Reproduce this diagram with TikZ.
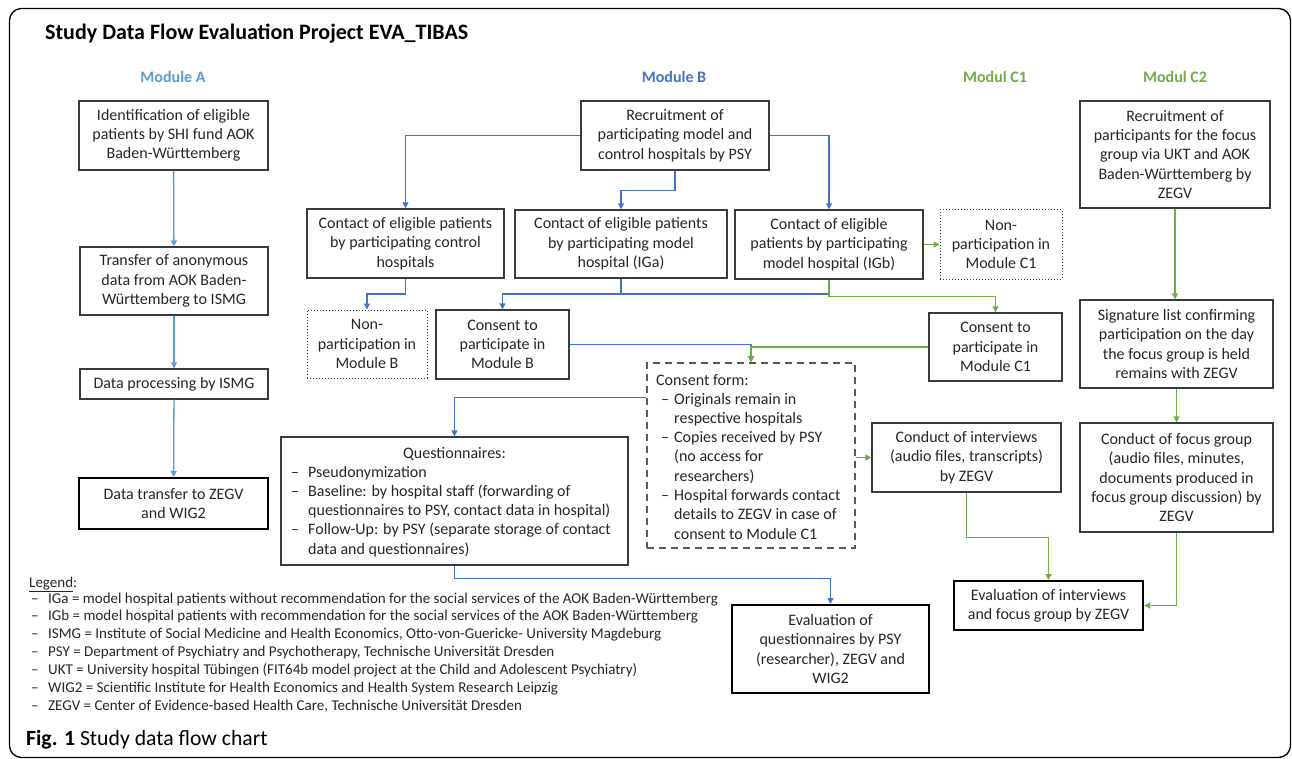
\documentclass[tikz,border=0pt]{standalone}
\usepackage{fontspec}
\setmainfont{Carlito}
\usetikzlibrary{arrows.meta}
\definecolor{blueA}{HTML}{5B9BD5}
\definecolor{blueB}{HTML}{4472C4}
\definecolor{grn}{HTML}{70AD47}
\definecolor{bord}{HTML}{3A3A3A}
\definecolor{dashc}{HTML}{595959}
\definecolor{txt}{HTML}{262626}
\newcommand\myboxfont{\fontsize{16}{19.3}\selectfont}
\newcommand\mylegfont{\fontsize{15}{17.9}\selectfont}
\newcommand\qitm{\makebox[17pt][l]{–}}
\newcommand\qind{\hspace*{17pt}}
\newcommand\citm{\makebox[13pt][l]{–}}
\newcommand\cind{\hspace*{13pt}}
\newcommand\litm{\makebox[17pt][l]{–}}
\newcommand\mkbox[7][]{%
  \node[bx,#1,minimum width={(#5-#3)*1pt},minimum height={(#6-#4)*1pt}] (#2) at ({(#3+#5)/2},{(#4+#6)/2}) {#7};}
\begin{document}
\begin{tikzpicture}[x=1pt,y=-1pt,
  bx/.style={draw=bord,line width=1.3pt,align=center,inner sep=0pt,font=\myboxfont,text=txt},
  bxthick/.style={draw=black,line width=2pt},
  bxdot/.style={line width=1pt,dotted},
  bxdash/.style={draw=dashc,line width=1.6pt,dash pattern=on 7pt off 5pt},
  tip/.style={-{Triangle[length=6pt,width=6pt]}},
  lA/.style={draw=blueA,line width=1.3pt},
  lB/.style={draw=blueB,line width=1.3pt},
  lG/.style={draw=grn,line width=1.3pt},
  arA/.style={lA,tip},
  arB/.style={lB,tip},
  arG/.style={lG,tip},
  modlbl/.style={font=\bfseries\fontsize{16}{19}\selectfont,inner sep=0pt},
  plain/.style={inner sep=0pt,text=txt}]
\useasboundingbox (0,0) rectangle (1292,759);
\draw[line width=1.3pt,rounded corners=12pt] (9.5,8.5) rectangle (1290.5,757.5);

\node[plain,anchor=base west,font=\bfseries\fontsize{22}{26}\selectfont,text=black] (title) at (45,40) {Study Data Flow Evaluation Project EVA\_TIBAS};

\node[modlbl,text=blueA] (modA) at (173,77) {Module A};
\node[modlbl,text=blueB] (modB) at (674,77) {Module B};
\node[modlbl,text=grn] (modC1) at (995,77) {Modul C1};
\node[modlbl,text=grn] (modC2) at (1175,77) {Modul C2};

% Module A
\mkbox{a1}{79}{101}{268}{170}{Identification of eligible\\patients by SHI fund AOK\\Baden-Württemberg}
\mkbox{a2}{80}{247}{268}{315}{Transfer of anonymous\\data from AOK Baden-\\Württemberg to ISMG}
\mkbox{a3}{80}{369}{268}{399}{Data processing by ISMG}
\mkbox[bxthick]{a4}{79}{478}{268}{529}{Data transfer to ZEGV\\and WIG2}

% Module B
\mkbox{b0}{581}{101}{769}{170}{Recruitment of\\participating model and\\control hospitals by PSY}
\mkbox{cctrl}{307}{209}{504}{278}{Contact of eligible patients\\by participating control\\hospitals}
\mkbox{ciga}{515}{210}{727}{278}{Contact of eligible patients\\by participating model\\hospital (IGa)}
\mkbox{cigb}{735}{210}{923}{279}{Contact of eligible\\patients by participating\\model hospital (IGb)}
\mkbox[bxdot]{nonc1}{940}{210}{1062}{279}{Non-\\participation in\\Module C1}
\mkbox[bxdot]{nonb}{307}{310}{427}{378}{Non-\\participation in\\Module B}
\mkbox{consb}{436}{310}{569}{379}{Consent to\\participate in\\Module B}
\mkbox{consc1}{929}{313}{1062}{381}{Consent to\\participate in\\Module C1}
\mkbox[bxdash]{cform}{647}{363}{855}{548}{}
\mkbox{quest}{281}{437}{628}{565}{}
\mkbox{intv}{872}{423}{1061}{492}{Conduct of interviews\\(audio files, transcripts)\\by ZEGV}
\mkbox[bxthick]{evpsy}{732}{605}{929}{693}{Evaluation of\\questionnaires by PSY\\(researcher), ZEGV and\\WIG2}

% Module C2
\mkbox{c2}{1080}{101}{1270}{208}{Recruitment of\\participants for the focus\\group via UKT and AOK\\Baden-Württemberg by\\ZEGV}
\mkbox{sig}{1080}{300}{1273}{388}{Signature list confirming\\participation on the day\\the focus group is held\\remains with ZEGV}
\mkbox{focus}{1080}{423}{1273}{532}{Conduct of focus group\\(audio files, minutes,\\documents produced in\\focus group discussion) by\\ZEGV}
\mkbox[bxthick]{evz}{954}{581}{1143}{630}{Evaluation of interviews\\and focus group by ZEGV}

% texts inside consent form and questionnaires
\node[plain,anchor=base west,font=\myboxfont] (cformH) at (656,385) {Consent form:};
\node[plain,anchor=base west,font=\myboxfont] (cformL) at (661,404) {\vtop{%
  \hbox{\citm Originals remain in}
  \hbox{\cind respective hospitals}
  \hbox{\citm Copies received by PSY}
  \hbox{\cind (no access for}
  \hbox{\cind researchers)}
  \hbox{\citm Hospital forwards contact}
  \hbox{\cind details to ZEGV in case of}
  \hbox{\cind consent to Module C1}}};
\node[plain,anchor=base,font=\myboxfont] (questH) at (454.5,458) {Questionnaires:};
\node[plain,anchor=base west,font=\myboxfont] (questL) at (291,477) {\vtop{%
  \hbox{\qitm Pseudonymization}
  \hbox{\qitm Baseline: by hospital staff (forwarding of}
  \hbox{\qind questionnaires to PSY, contact data in hospital)}
  \hbox{\qitm Follow-Up: by PSY (separate storage of contact}
  \hbox{\qind data and questionnaires)}}};

% legend
\node[plain,anchor=base west,font=\mylegfont] (legH) at (29,587) {\underline{Legend}:};
\node[plain,anchor=base west,font=\mylegfont] (legL) at (31,603) {\vtop{%
  \hbox{\litm IGa = model hospital patients without recommendation for the social services of the AOK Baden-Württemberg}
  \hbox{\litm IGb = model hospital patients with recommendation for the social services of the AOK Baden-Württemberg}
  \hbox{\litm ISMG = Institute of Social Medicine and Health Economics, Otto-von-Guericke- University Magdeburg}
  \hbox{\litm PSY = Department of Psychiatry and Psychotherapy, Technische Universität Dresden}
  \hbox{\litm UKT = University hospital Tübingen (FIT64b model project at the Child and Adolescent Psychiatry)}
  \hbox{\litm WIG2 = Scientific Institute for Health Economics and Health System Research Leipzig}
  \hbox{\litm ZEGV = Center of Evidence-based Health Care, Technische Universität Dresden}}};

\node[plain,anchor=base west,font=\fontsize{21.7}{26}\selectfont,text=black] (cap) at (26,745) {\textbf{Fig. 1} Study data flow chart};

% connectors Module A
\draw[arA] (a1) -- (a2);
\draw[arA] (a2) -- (a3);
\draw[arA] (a3) -- (a4);

% connectors Module B
\coordinate (bus) at (0,294);
\draw[arB] (b0.west) -| (cctrl.north);
\draw[arB] (b0.east) -| (cigb.north);
\draw[arB] (b0.south) -- ++(0,20) -| (ciga.north);
\draw[arB] (cctrl.south) |- (bus -| nonb.north) -- (nonb.north);
\draw[arB] (ciga.south) |- (bus -| consb.north) -- (consb.north);
\draw[lB] (cigb.south) |- (bus -| ciga.south);
\draw[arG] (cigb.south) -- ++(0,17) -| (consc1.north);
\draw[arG] (cigb.east) -- (nonc1.west);
\draw[arB] (consb.east) -| (cform.north);
\draw[arG] (consc1.west) -| (cform.north);
\draw[arB] ([yshift=-35pt]cform.north west) -| (quest.north);
\draw[arG] (cform.east |- intv.west) -- (intv.west);
\draw[arB] (quest.south) -- ++(0,13) -| (evpsy.north);

% connectors Module C
\draw[arG] (c2.south) -- (c2.south |- sig.north);
\draw[arG] (sig) -- (focus);
\draw[arG] (intv.south) -- ++(0,45) -| (evz.north);
\draw[arG] (focus.south) |- (evz.east);
\end{tikzpicture}
\end{document}
